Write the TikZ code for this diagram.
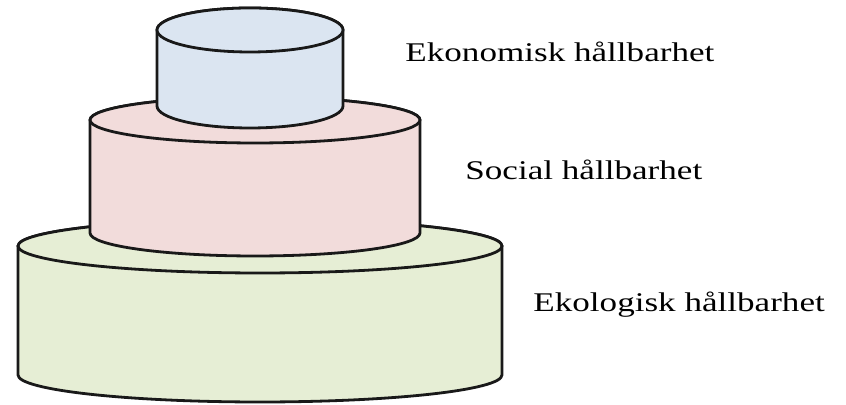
\documentclass[tikz,border=0pt]{standalone}
\usepackage{fontspec}
\setmainfont{Liberation Serif}[FakeStretch=1.3]
\usepackage{xcolor}
\usetikzlibrary{positioning}
\definecolor{tierblue}{HTML}{DBE5F1}
\definecolor{tierpink}{HTML}{F2DCDB}
\definecolor{tiergreen}{HTML}{E6EED5}

% #1 colour, #2 centre x, #3 x radius, #4 top y, #5 bottom y, #6 y radius
\newcommand{\tier}[6]{%
  \draw[tierline, fill=#1] (#2-#3, #4) -- (#2-#3, #5)
    arc[start angle=180, end angle=360, x radius=#3, y radius=#6]
    -- (#2+#3, #4)
    arc[start angle=0, end angle=180, x radius=#3, y radius=#6] -- cycle;
  \draw[tierline, fill=#1] (#2, #4) ellipse[x radius=#3, y radius=#6];
}

\begin{document}
\begin{tikzpicture}[
    x=0.5pt, y=0.5pt,
    tierline/.style={draw=black!90, line width=1.4pt},
    label/.style={anchor=west, inner sep=0pt, font=\fontsize{13.5}{16}\selectfont},
]
    \useasboundingbox (0,0) rectangle (846,405);

    % Tiers, bottom first
    \tier{tiergreen}{260}{242}{159}{30}{27}
    \tier{tierpink}{255}{165}{285}{172}{23}
    \tier{tierblue}{250}{93}{375}{299}{22}

    % Labels
    \node[label] (econ) at (405, 353) {Ekonomisk hållbarhet};
    \node[label] (social) at (465, 235) {Social hållbarhet};
    \node[label] (ecol) at (533, 100) {Ekologisk hållbarhet};
\end{tikzpicture}
\end{document}
